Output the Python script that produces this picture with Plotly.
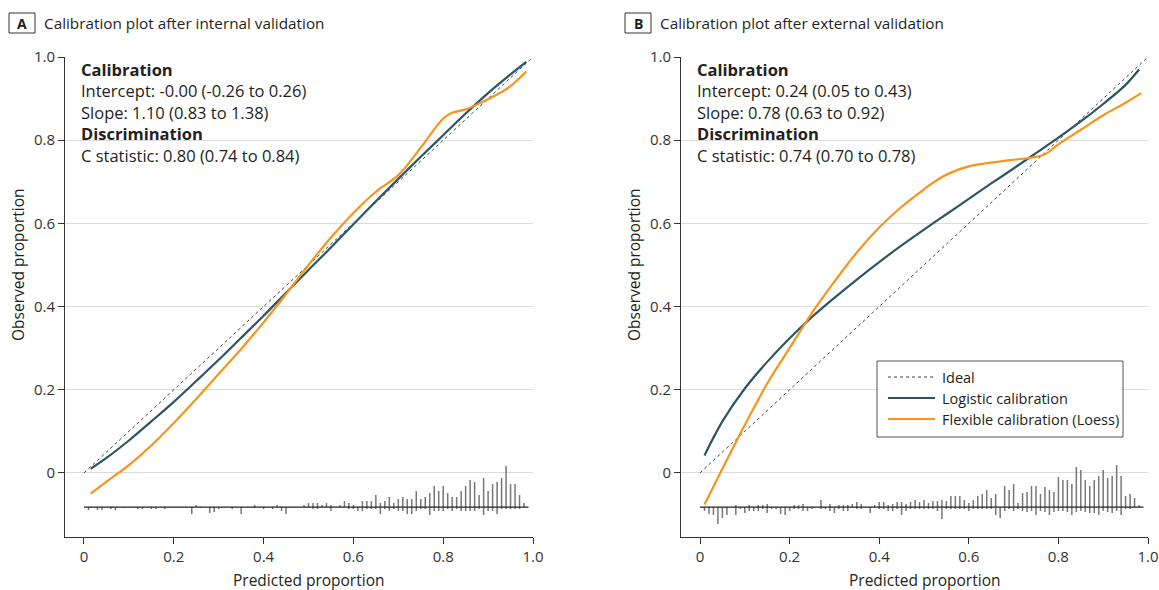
import plotly.graph_objects as go

W, H = 1159, 590
FONT = "Open Sans"
TXT = "#231f20"
TEAL = "#2c5665"
ORANGE = "#f7941d"
RUG = "#777777"

tick_vals = [0, 0.2, 0.4, 0.6, 0.8, 1.0]
tick_text = ["0", "0.2", "0.4", "0.6", "0.8", "1.0"]

ideal_x = [0, 1]
ideal_y = [0, 1]

# Panel A: internal validation
a_log_x = [0.015, 0.05, 0.10, 0.15, 0.20, 0.25, 0.30, 0.35, 0.40, 0.45, 0.50,
           0.55, 0.60, 0.65, 0.70, 0.75, 0.80, 0.85, 0.90, 0.95, 0.985]
a_log_y = [0.010, 0.036, 0.078, 0.124, 0.171, 0.221, 0.272, 0.325, 0.378, 0.433, 0.488,
           0.542, 0.598, 0.653, 0.707, 0.760, 0.812, 0.864, 0.913, 0.958, 0.988]
a_loess_x = [0.015, 0.05, 0.10, 0.15, 0.20, 0.25, 0.30, 0.35, 0.40, 0.45, 0.50,
             0.55, 0.60, 0.65, 0.70, 0.75, 0.80, 0.82, 0.85, 0.88, 0.92, 0.95, 0.985]
a_loess_y = [-0.050, -0.021, 0.019, 0.066, 0.120, 0.178, 0.238, 0.298, 0.362, 0.430, 0.500,
             0.566, 0.625, 0.676, 0.716, 0.782, 0.852, 0.866, 0.874, 0.888, 0.910, 0.930, 0.965]

# Panel B: external validation
b_log_x = [0.01, 0.05, 0.10, 0.15, 0.20, 0.25, 0.30, 0.35, 0.40, 0.45, 0.50,
           0.55, 0.60, 0.65, 0.70, 0.75, 0.80, 0.85, 0.90, 0.95, 0.98]
b_log_y = [0.042, 0.124, 0.203, 0.267, 0.324, 0.375, 0.421, 0.465, 0.507, 0.547, 0.585,
           0.622, 0.659, 0.696, 0.732, 0.769, 0.806, 0.845, 0.887, 0.933, 0.970]
b_loess_x = [0.01, 0.05, 0.10, 0.15, 0.20, 0.25, 0.30, 0.35, 0.40, 0.45, 0.50,
             0.53, 0.56, 0.60, 0.65, 0.70, 0.74, 0.77, 0.80, 0.85, 0.90, 0.95, 0.985]
b_loess_y = [-0.076, 0.010, 0.115, 0.215, 0.300, 0.385, 0.460, 0.530, 0.590, 0.640, 0.682,
             0.705, 0.722, 0.737, 0.746, 0.753, 0.758, 0.766, 0.790, 0.825, 0.860, 0.890, 0.913]

# Rug (histogram of predictions): bins of width 0.01, relative counts
rug_bins = [round(0.01 * k, 2) for k in range(1, 99)]
a_events = [0, 0, 0, 0, 0, 0, 0, 0, 0, 0,
            0, 0, 0, 0, 0, 0, 0, 0, 0, 0,
            0, 0, 0, 0, 2, 0, 0, 0, 0, 0,
            0, 0, 0, 0, 0, 0, 0, 2, 0, 0,
            0, 0, 2, 0, 0, 0, 0, 0, 2, 4,
            4, 4, 2, 4, 2, 0, 2, 6, 4, 2,
            0, 6, 6, 6, 12, 4, 6, 10, 4, 8,
            10, 8, 8, 16, 8, 10, 14, 21, 16, 21,
            14, 10, 10, 16, 21, 27, 25, 12, 29, 16,
            23, 25, 29, 41, 23, 23, 12, 4]
a_nonevents = [3, 0, 3, 3, 0, 2, 3, 0, 1, 0,
               0, 2, 2, 0, 2, 2, 0, 2, 0, 0,
               0, 0, 0, 7, 0, 1, 0, 6, 5, 2,
               0, 0, 2, 0, 7, 0, 0, 1, 0, 2,
               0, 2, 0, 4, 7, 0, 0, 0, 0, 0,
               2, 2, 0, 0, 4, 0, 0, 0, 2, 2,
               4, 4, 2, 2, 2, 7, 2, 4, 2, 4,
               4, 7, 7, 4, 2, 2, 8, 4, 4, 4,
               2, 4, 2, 4, 4, 4, 4, 2, 8, 4,
               4, 7, 2, 2, 2, 2, 2, 0]
b_events = [0, 0, 0, 0, 0, 0, 0, 2, 0, 0,
            2, 0, 2, 2, 3, 0, 0, 0, 0, 0,
            2, 2, 3, 0, 0, 0, 7, 0, 3, 0,
            2, 2, 2, 3, 5, 3, 0, 0, 2, 5,
            5, 2, 3, 5, 5, 3, 5, 7, 5, 7,
            4, 6, 6, 7, 6, 11, 11, 11, 7, 4,
            7, 11, 13, 17, 9, 13, 0, 21, 17, 23,
            4, 14, 15, 21, 21, 13, 20, 17, 15, 30,
            27, 27, 23, 40, 37, 27, 21, 27, 31, 37,
            29, 31, 42, 31, 11, 13, 9, 2]
b_nonevents = [4, 7, 8, 17, 11, 8, 0, 8, 2, 6,
               4, 4, 4, 2, 6, 2, 2, 7, 8, 4,
               2, 2, 4, 4, 2, 0, 2, 2, 4, 6,
               2, 4, 4, 0, 2, 2, 0, 6, 0, 2,
               2, 4, 4, 2, 8, 4, 2, 2, 2, 2,
               2, 2, 4, 12, 2, 2, 2, 2, 2, 4,
               2, 2, 2, 2, 2, 8, 11, 4, 2, 4,
               2, 4, 5, 4, 8, 4, 5, 8, 5, 4,
               4, 5, 8, 5, 4, 5, 6, 6, 8, 4,
               5, 6, 4, 8, 2, 2, 0, 0]

RUG_BASE = -0.082
RUG_UNIT = 1 / 416.0
RUG_END = 0.99

panels = [
    dict(xa="x", ya="y", title="Calibration plot after internal validation", letter="A",
         log=(a_log_x, a_log_y), loess=(a_loess_x, a_loess_y),
         ev=a_events, nev=a_nonevents,
         stats=["Intercept: -0.00 (-0.26 to 0.26)", "Slope: 1.10 (0.83 to 1.38)",
                "C statistic: 0.80 (0.74 to 0.84)"]),
    dict(xa="x2", ya="y2", title="Calibration plot after external validation", letter="B",
         log=(b_log_x, b_log_y), loess=(b_loess_x, b_loess_y),
         ev=b_events, nev=b_nonevents,
         stats=["Intercept: 0.24 (0.05 to 0.43)", "Slope: 0.78 (0.63 to 0.92)",
                "C statistic: 0.74 (0.70 to 0.78)"]),
]

# pixel layout helpers
def px(x):
    return x / W

def py(y):
    return 1 - y / H

x_domains = [[px(65), px(533)], [px(681), px(1148)]]
title_left = [42, 658]
box_left = [9, 625]
ytitle_x = [18, 634]
y_domain = [py(537), py(57)]

fig = go.Figure()
annotations = []
shapes = []

for i, p in enumerate(panels):
    xa, ya = p["xa"], p["ya"]
    rx, ry = [], []
    for b, e, n in zip(rug_bins, p["ev"], p["nev"]):
        if e > 0:
            rx += [b, b, None]
            ry += [RUG_BASE, RUG_BASE + e * RUG_UNIT, None]
        if n > 0:
            rx += [b, b, None]
            ry += [RUG_BASE, RUG_BASE - n * RUG_UNIT, None]
    fig.add_trace(go.Scatter(x=rx, y=ry, mode="lines", xaxis=xa, yaxis=ya,
                             line=dict(color=RUG, width=1.5), showlegend=False,
                             hoverinfo="skip"))
    fig.add_trace(go.Scatter(x=[0, RUG_END], y=[RUG_BASE, RUG_BASE], mode="lines",
                             xaxis=xa, yaxis=ya, line=dict(color="#222222", width=1.2),
                             showlegend=False, hoverinfo="skip"))
    fig.add_trace(go.Scatter(x=ideal_x, y=ideal_y, mode="lines", xaxis=xa, yaxis=ya,
                             line=dict(color="#444444", width=1, dash="dot"),
                             name="Ideal", showlegend=False))
    fig.add_trace(go.Scatter(x=p["log"][0], y=p["log"][1], mode="lines", xaxis=xa, yaxis=ya,
                             line=dict(color=TEAL, width=2.2, shape="spline"),
                             name="Logistic calibration", showlegend=False))
    fig.add_trace(go.Scatter(x=p["loess"][0], y=p["loess"][1], mode="lines", xaxis=xa, yaxis=ya,
                             line=dict(color=ORANGE, width=2.2, shape="spline"),
                             name="Flexible calibration (Loess)", showlegend=False))

    xref = xa
    yref = ya
    st = p["stats"]
    annotations.append(dict(
        x=-0.009, y=1.0, xref=xref, yref=yref, xanchor="left", yanchor="top",
        text="<b>Calibration</b><br>%s<br>%s<br><b>Discrimination</b><br>%s" % (st[0], st[1], st[2]),
        align="left", showarrow=False, borderpad=0,
        font=dict(family=FONT, size=16.5, color=TXT)))
    annotations.append(dict(x=1.012, y=-0.048, xref=xref, yref=yref, xanchor="left",
                            yanchor="middle", text="1", showarrow=False,
                            font=dict(family=FONT, size=15, color=TXT)))
    annotations.append(dict(x=1.012, y=-0.113, xref=xref, yref=yref, xanchor="left",
                            yanchor="middle", text="0", showarrow=False,
                            font=dict(family=FONT, size=15, color=TXT)))
    annotations.append(dict(x=0.5, y=py(580), xref=xref, yref="paper", xanchor="center",
                            yanchor="middle", text="Predicted proportion", showarrow=False,
                            font=dict(family=FONT, size=15.5, color=TXT)))
    annotations.append(dict(x=px(ytitle_x[i]), y=0.5, xref="paper", yref=yref, xanchor="center",
                            yanchor="middle", text="Observed proportion", textangle=-90,
                            showarrow=False, font=dict(family=FONT, size=15.5, color=TXT)))
    annotations.append(dict(x=px(title_left[i]), y=py(23), xref="paper", yref="paper",
                            xanchor="left", yanchor="middle", text=p["title"], showarrow=False,
                            font=dict(family=FONT, size=15.3, color=TXT)))
    annotations.append(dict(x=px(box_left[i] + 13), y=py(23), xref="paper", yref="paper",
                            xanchor="center", yanchor="middle", text="<b>%s</b>" % p["letter"],
                            showarrow=False, font=dict(family=FONT, size=14, color=TXT)))
    shapes.append(dict(type="rect", xref="paper", yref="paper",
                       x0=px(box_left[i]), x1=px(box_left[i] + 26), y0=py(33), y1=py(13),
                       line=dict(color="#333333", width=1)))

# legend box in panel B
leg_items = [("Ideal", dict(color="#444444", width=1, dash="dot"), 377),
             ("Logistic calibration", dict(color=TEAL, width=2.2), 398),
             ("Flexible calibration (Loess)", dict(color=ORANGE, width=2.2), 419)]
shapes.append(dict(type="rect", xref="paper", yref="paper", x0=px(877), x1=px(1123),
                   y0=py(437), y1=py(361), line=dict(color="#555555", width=1),
                   fillcolor="white", layer="above"))
for label, ln, yy in leg_items:
    shapes.append(dict(type="line", xref="paper", yref="paper", x0=px(888), x1=px(935),
                       y0=py(yy), y1=py(yy), line=ln, layer="above"))
    annotations.append(dict(x=px(940), y=py(yy), xref="paper", yref="paper", xanchor="left",
                            yanchor="middle", text=label, showarrow=False,
                            font=dict(family=FONT, size=14.5, color=TXT)))

axis_common = dict(tickvals=tick_vals, ticktext=tick_text, ticks="outside", ticklen=6,
                   tickcolor="#333333", showline=True, linecolor="#333333", linewidth=1,
                   zeroline=False, tickfont=dict(family=FONT, size=15, color="#333333"),
                   fixedrange=True, automargin=False)

fig.update_layout(
    width=W, height=H, margin=dict(l=0, r=0, t=0, b=0, autoexpand=False),
    paper_bgcolor="white", plot_bgcolor="white", showlegend=False,
    xaxis=dict(domain=x_domains[0], range=[-0.0423, 1.0], showgrid=False, anchor="y", **axis_common),
    yaxis=dict(domain=y_domain, range=[-0.154, 1.0], showgrid=True, gridcolor="#dcdcdc",
               gridwidth=1, anchor="x", **axis_common),
    xaxis2=dict(domain=x_domains[1], range=[-0.0424, 1.0], showgrid=False, anchor="y2", **axis_common),
    yaxis2=dict(domain=y_domain, range=[-0.154, 1.0], showgrid=True, gridcolor="#dcdcdc",
                gridwidth=1, anchor="x2", **axis_common),
    annotations=annotations, shapes=shapes,
)

post = "document.body.style.margin='0';document.body.style.overflow='hidden';"
fig.write_html("out.html", config={"displayModeBar": False}, post_script=post)
